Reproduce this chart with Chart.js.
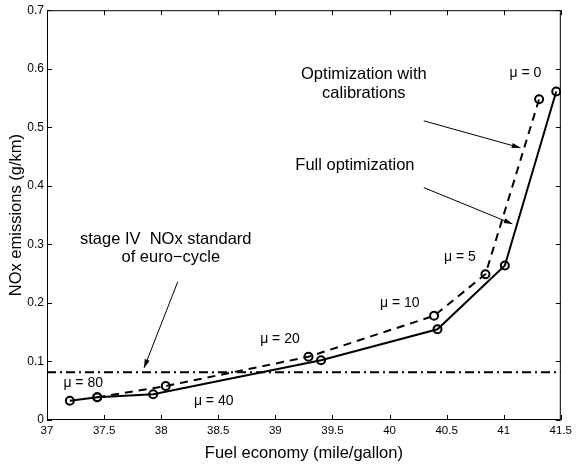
<!DOCTYPE html>
<html>
<head>
<meta charset="utf-8">
<script src="https://cdn.jsdelivr.net/npm/chart.js@4.4.0/dist/chart.umd.min.js"></script>
<style>
  html, body { margin: 0; padding: 0; background: #fff; }
  #wrap { width: 576px; height: 466px; }
</style>
</head>
<body>
<div id="wrap"><canvas id="noxChart" width="576" height="466"></canvas></div>
<script>
// Full optimization (solid)
const fullEconomy = [37.2, 37.44, 37.93, 39.4, 40.42, 41.01, 41.46];
const fullNox = [0.033, 0.039, 0.044, 0.102, 0.155, 0.264, 0.561];

// Optimization with calibrations (dashed)
const calibEconomy = [37.44, 38.04, 39.29, 40.39, 40.84, 41.31];
const calibNox = [0.039, 0.058, 0.108, 0.178, 0.249, 0.548];

// Stage IV NOx standard
const standardEconomy = [37, 41.5];
const standardNox = [0.0815, 0.0815];

const xTicks = [37, 37.5, 38, 38.5, 39, 39.5, 40, 40.5, 41, 41.5];
const yTicks = [0, 0.1, 0.2, 0.3, 0.4, 0.5, 0.6, 0.7];

// text labels placed in data coordinates
const labelTexts = ["Optimization with", "calibrations", "Full optimization", "\u03bc = 0",
    "stage IV  NOx standard", "of euro\u2212cycle", "\u03bc = 80", "\u03bc = 40", "\u03bc = 20", "\u03bc = 10", "\u03bc = 5"];
const labelX = [39.775, 39.775, 39.697, 41.19, 38.04, 38.084, 37.317, 38.46, 39.04, 40.09, 40.617];
const labelY = [0.590, 0.557, 0.434, 0.593, 0.308, 0.277, 0.063, 0.032, 0.138, 0.200, 0.279];

// arrows: from -> to in data coordinates
const arrowFromX = [40.30, 40.30, 38.145];
const arrowFromY = [0.511, 0.397, 0.236];
const arrowToX = [41.146, 41.076, 37.85];
const arrowToY = [0.465, 0.335, 0.089];

const FONT = '"Liberation Sans", Arial, sans-serif';

function toPoints(xs, ys) {
    return xs.map((x, i) => ({ x: x, y: ys[i] }));
}

const boxAndTicks = {
    id: 'boxAndTicks',
    afterDatasetsDraw(chart) {
        const ctx = chart.ctx;
        const a = chart.chartArea;
        const xs = chart.scales.x, ys = chart.scales.y;
        ctx.save();
        ctx.strokeStyle = '#000';
        ctx.lineWidth = 1;
        ctx.strokeRect(a.left + 0.5, a.top + 0.5, a.right - a.left - 1, a.bottom - a.top - 1);
        ctx.beginPath();
        xTicks.forEach(v => {
            const px = Math.round(xs.getPixelForValue(v)) + 0.5;
            ctx.moveTo(px, a.bottom); ctx.lineTo(px, a.bottom - 5);
            ctx.moveTo(px, a.top); ctx.lineTo(px, a.top + 5);
        });
        yTicks.forEach(v => {
            const py = Math.round(ys.getPixelForValue(v)) + 0.5;
            ctx.moveTo(a.left, py); ctx.lineTo(a.left + 5, py);
            ctx.moveTo(a.right, py); ctx.lineTo(a.right - 5, py);
        });
        ctx.stroke();

        // text labels
        ctx.fillStyle = '#000';
        ctx.textAlign = 'center';
        ctx.textBaseline = 'middle';
        labelTexts.forEach((t, i) => {
            ctx.font = t.startsWith('\u03bc') ? '14px ' + FONT : '16.5px ' + FONT;
            ctx.fillText(t, xs.getPixelForValue(labelX[i]), ys.getPixelForValue(labelY[i]));
        });

        // arrows
        ctx.lineWidth = 1;
        arrowFromX.forEach((fx, i) => {
            const x1 = xs.getPixelForValue(fx), y1 = ys.getPixelForValue(arrowFromY[i]);
            const x2 = xs.getPixelForValue(arrowToX[i]), y2 = ys.getPixelForValue(arrowToY[i]);
            const ang = Math.atan2(y2 - y1, x2 - x1);
            ctx.beginPath();
            ctx.moveTo(x1, y1); ctx.lineTo(x2, y2);
            ctx.stroke();
            ctx.beginPath();
            ctx.moveTo(x2, y2);
            ctx.lineTo(x2 - 9 * Math.cos(ang - 0.3), y2 - 9 * Math.sin(ang - 0.3));
            ctx.lineTo(x2 - 9 * Math.cos(ang + 0.3), y2 - 9 * Math.sin(ang + 0.3));
            ctx.closePath();
            ctx.fill();
        });
        ctx.restore();
    }
};

new Chart(document.getElementById('noxChart'), {
    type: 'scatter',
    data: {
        datasets: [
            {
                label: 'Stage IV standard',
                data: toPoints(standardEconomy, standardNox),
                showLine: true,
                borderColor: '#000',
                borderWidth: 2,
                borderDash: [9, 4, 2, 4],
                pointRadius: 0
            },
            {
                label: 'Optimization with calibrations',
                data: toPoints(calibEconomy, calibNox),
                showLine: true,
                borderColor: '#000',
                borderWidth: 2,
                borderDash: [8, 6],
                pointRadius: 4,
                pointBorderWidth: 2,
                pointBorderColor: '#000',
                pointBackgroundColor: 'rgba(255,255,255,0)'
            },
            {
                label: 'Full optimization',
                data: toPoints(fullEconomy, fullNox),
                showLine: true,
                borderColor: '#000',
                borderWidth: 2,
                pointRadius: 4,
                pointBorderWidth: 2,
                pointBorderColor: '#000',
                pointBackgroundColor: 'rgba(255,255,255,0)'
            }
        ]
    },
    options: {
        responsive: false,
        animation: false,
        layout: { padding: { top: 10, right: 10, left: 0, bottom: 0 } },
        plugins: {
            legend: { display: false },
            tooltip: { enabled: false }
        },
        scales: {
            x: {
                type: 'linear',
                min: 37,
                max: 41.5,
                afterBuildTicks: s => { s.ticks = xTicks.map(v => ({ value: v })); },
                afterFit: s => { s.height = 46; },
                grid: { display: false, drawTicks: false },
                border: { display: false },
                ticks: {
                    color: '#000',
                    padding: 4,
                    maxRotation: 0,
                    font: { family: FONT, size: 11.5 },
                    callback: v => String(v)
                },
                title: {
                    display: true,
                    text: 'Fuel economy (mile/gallon)',
                    color: '#000',
                    font: { family: FONT, size: 16.5 },
                    padding: { top: 4, bottom: 3 }
                }
            },
            y: {
                type: 'linear',
                min: 0,
                max: 0.7,
                afterBuildTicks: s => { s.ticks = yTicks.map(v => ({ value: v })); },
                afterFit: s => { s.width = 47; },
                grid: { display: false, drawTicks: false },
                border: { display: false },
                ticks: {
                    color: '#000',
                    padding: 3,
                    font: { family: FONT, size: 12 },
                    callback: v => String(Math.round(v * 10) / 10)
                },
                title: {
                    display: true,
                    text: 'NOx emissions (g/km)',
                    color: '#000',
                    font: { family: FONT, size: 16.5 },
                    padding: { top: 7, bottom: 2 }
                }
            }
        }
    },
    plugins: [boxAndTicks]
});
</script>
</body>
</html>
